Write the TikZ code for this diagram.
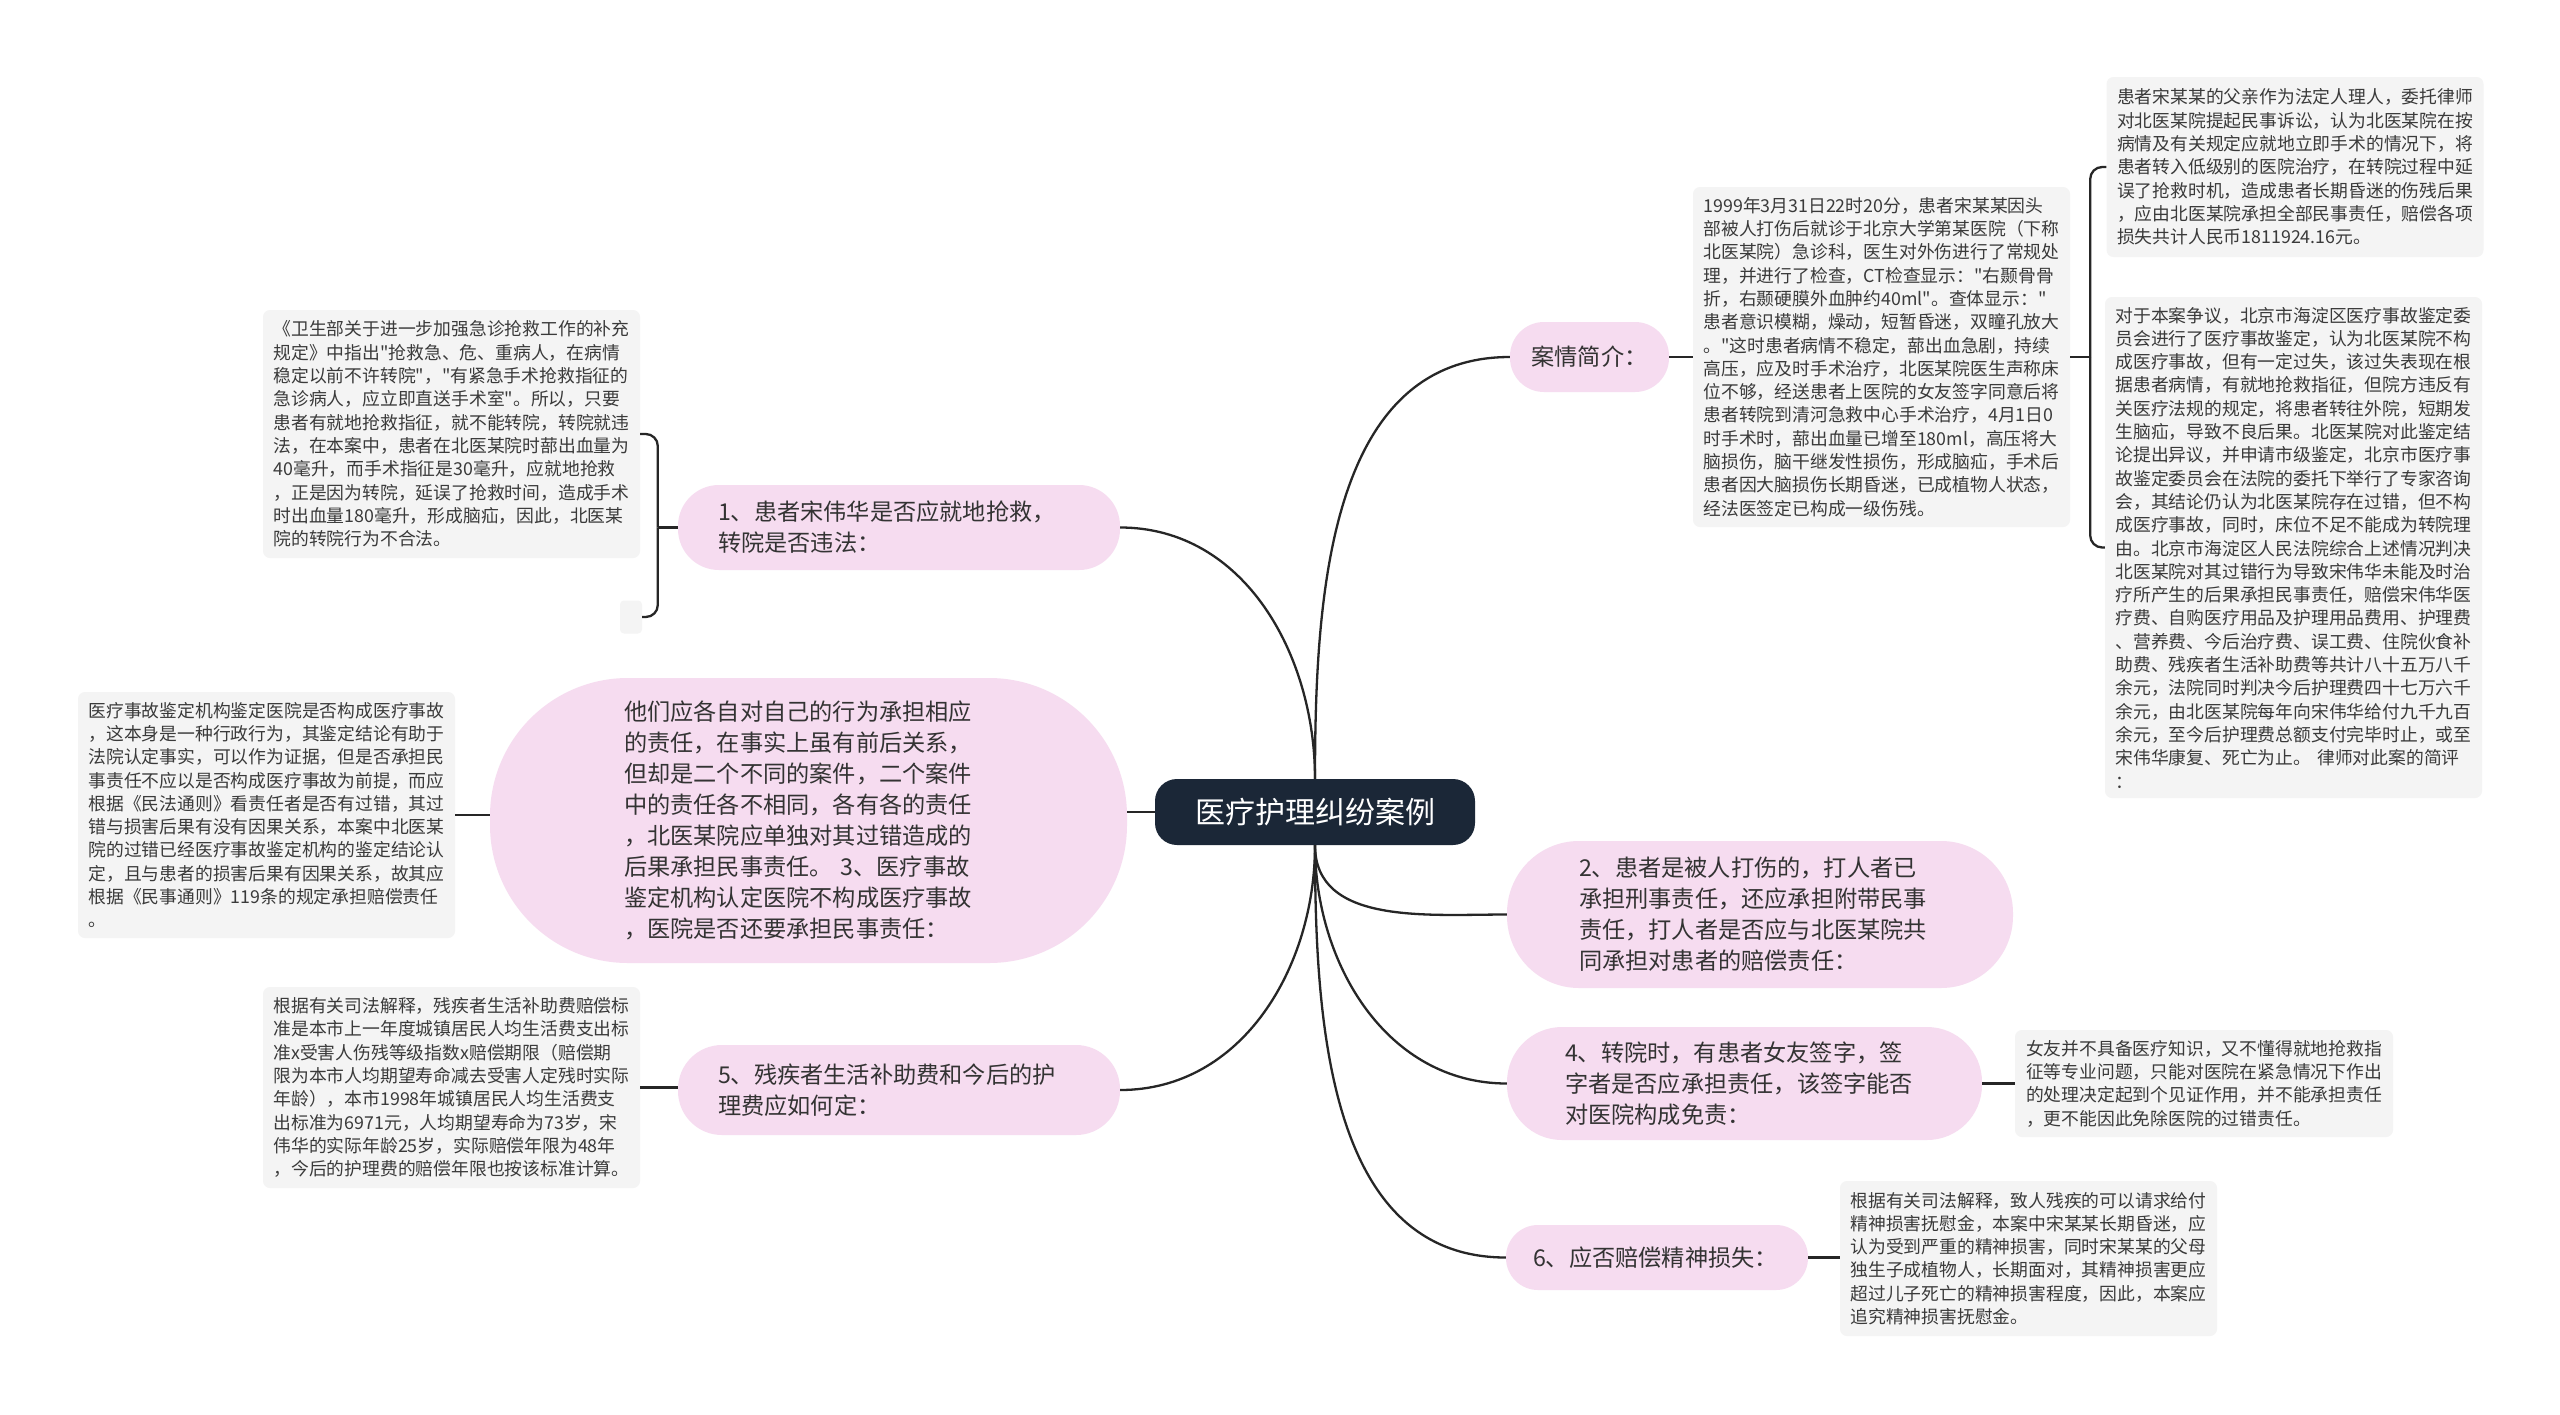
\documentclass[tikz,border=0pt]{standalone}
\usepackage{fontspec}
\setmainfont{Noto Sans CJK SC}[Ligatures=TeXOff]
\definecolor{pinkc}{HTML}{F6DCF0}
\definecolor{leafc}{HTML}{F4F4F4}
\definecolor{rootc}{HTML}{1B2737}
\definecolor{linec}{HTML}{262626}
\definecolor{brtxt}{HTML}{333333}
\definecolor{leaftxt}{HTML}{3A3A3A}
\begin{document}
\begin{tikzpicture}[x=1pt,y=1pt,
  conn/.style={draw=linec, line width=2.3pt},
  leaf/.style={fill=leafc, rounded corners=7pt, inner xsep=10.5pt, inner ysep=0pt,
    text width=356pt, align=left, font=\fontsize{17.8}{23.3}\selectfont, text=leaftxt},
  br/.style={fill=pinkc, inner ysep=0pt, align=left,
    font=\fontsize{23.2}{31}\selectfont, text=brtxt},
]
\useasboundingbox[fill=white] (0,0) rectangle (2560,-1414);

% root
\node[fill=rootc, rounded corners=22pt, minimum width=320pt, minimum height=66pt,
  text=white, font=\fontsize{30}{36}\selectfont] (root) at (1315,-812) {医疗护理纠纷案例};

% branches
\node[br, align=center, rounded corners=34pt, minimum width=159pt, minimum height=70pt] (intro) at (1589.5,-357) {案情简介：};
\node[br, rounded corners=41pt, text width=362pt, inner xsep=40pt, minimum height=85pt] (B1) at (899,-527.5)
  {1、患者宋伟华是否应就地抢救，\\转院是否违法：};
\node[br, rounded corners=138pt, text width=369pt, inner xsep=134pt, minimum height=285pt] (B3) at (808.5,-820.5)
  {他们应各自对自己的行为承担相应\\的责任，在事实上虽有前后关系，\\但却是二个不同的案件，二个案件\\中的责任各不相同，各有各的责任\\，北医某院应单独对其过错造成的\\后果承担民事责任。 3、医疗事故\\鉴定机构认定医院不构成医疗事故\\，医院是否还要承担民事责任：};
\node[br, rounded corners=44pt, text width=362pt, inner xsep=40pt, minimum height=90pt] (B5) at (899,-1090)
  {5、残疾者生活补助费和今后的护\\理费应如何定：};
\node[br, rounded corners=72pt, text width=362pt, inner xsep=72pt, minimum height=147pt] (B2) at (1760,-914.5)
  {2、患者是被人打伤的，打人者已\\承担刑事责任，还应承担附带民事\\责任，打人者是否应与北医某院共\\同承担对患者的赔偿责任：};
\node[br, rounded corners=55pt, text width=359pt, inner xsep=58pt, minimum height=113pt] (B4) at (1744.5,-1083.5)
  {4、转院时，有患者女友签字，签\\字者是否应承担责任，该签字能否\\对医院构成免责：};
\node[br, rounded corners=32pt, text width=248pt, inner xsep=27pt, minimum height=65pt] (B6) at (1657,-1257.5)
  {6、应否赔偿精神损失：};

% leaves
\node[leaf, minimum width=377pt, minimum height=248pt] (L1) at (451.5,-434)
  {《卫生部关于进一步加强急诊抢救工作的补充\\规定》中指出"抢救急、危、重病人，在病情\\稳定以前不许转院"，"有紧急手术抢救指征的\\急诊病人，应立即直送手术室"。所以，只要\\患者有就地抢救指征，就不能转院，转院就违\\法，在本案中，患者在北医某院时蔀出血量为\\40毫升，而手术指征是30毫升，应就地抢救\\，正是因为转院，延误了抢救时间，造成手术\\时出血量180毫升，形成脑疝，因此，北医某\\院的转院行为不合法。};
\node[fill=leafc, rounded corners=4pt, minimum width=22pt, minimum height=33pt, inner sep=0pt] (E) at (631,-617) {};
\node[leaf, minimum width=377pt, minimum height=246pt] (L3) at (266.5,-815)
  {医疗事故鉴定机构鉴定医院是否构成医疗事故\\，这本身是一种行政行为，其鉴定结论有助于\\法院认定事实，可以作为证据，但是否承担民\\事责任不应以是否构成医疗事故为前提，而应\\根据《民法通则》看责任者是否有过错，其过\\错与损害后果有没有因果关系，本案中北医某\\院的过错已经医疗事故鉴定机构的鉴定结论认\\定，且与患者的损害后果有因果关系，故其应\\根据《民事通则》119条的规定承担赔偿责任\\。};
\node[leaf, minimum width=377pt, minimum height=201pt] (L5) at (451.5,-1087.5)
  {根据有关司法解释，残疾者生活补助费赔偿标\\准是本市上一年度城镇居民人均生活费支出标\\准x受害人伤残等级指数x赔偿期限（赔偿期\\限为本市人均期望寿命减去受害人定残时实际\\年龄），本市1998年城镇居民人均生活费支\\出标准为6971元，人均期望寿命为73岁，宋\\伟华的实际年龄25岁，实际赔偿年限为48年\\，今后的护理费的赔偿年限也按该标准计算。};
\node[leaf, minimum width=377pt, minimum height=340pt] (LC) at (1881.5,-357)
  {1999年3月31日22时20分，患者宋某某因头\\部被人打伤后就诊于北京大学第某医院（下称\\北医某院）急诊科，医生对外伤进行了常规处\\理，并进行了检查，CT检查显示："右颞骨骨\\折，右颞硬膜外血肿约40ml"。查体显示："\\患者意识模糊，燥动，短暂昏迷，双瞳孔放大\\。"这时患者病情不稳定，蔀出血急剧，持续\\高压，应及时手术治疗，北医某院医生声称床\\位不够，经送患者上医院的女友签字同意后将\\患者转院到清河急救中心手术治疗，4月1日0\\时手术时，蔀出血量已增至180ml，高压将大\\脑损伤，脑干继发性损伤，形成脑疝，手术后\\患者因大脑损伤长期昏迷，已成植物人状态，\\经法医签定已构成一级伤残。};
\node[leaf, minimum width=377pt, minimum height=180pt] (LT1) at (2295,-167)
  {患者宋某某的父亲作为法定人理人，委托律师\\对北医某院提起民事诉讼，认为北医某院在按\\病情及有关规定应就地立即手术的情况下，将\\患者转入低级别的医院治疗，在转院过程中延\\误了抢救时机，造成患者长期昏迷的伤残后果\\，应由北医某院承担全部民事责任，赔偿各项\\损失共计人民币1811924.16元。};
\node[leaf, minimum width=377pt, minimum height=501pt] (LT2) at (2293.5,-547.5)
  {对于本案争议，北京市海淀区医疗事故鉴定委\\员会进行了医疗事故鉴定，认为北医某院不构\\成医疗事故，但有一定过失，该过失表现在根\\据患者病情，有就地抢救指征，但院方违反有\\关医疗法规的规定，将患者转往外院，短期发\\生脑疝，导致不良后果。北医某院对此鉴定结\\论提出异议，并申请市级鉴定，北京市医疗事\\故鉴定委员会在法院的委托下举行了专家咨询\\会，其结论仍认为北医某院存在过错，但不构\\成医疗事故，同时，床位不足不能成为转院理\\由。北京市海淀区人民法院综合上述情况判决\\北医某院对其过错行为导致宋伟华未能及时治\\疗所产生的后果承担民事责任，赔偿宋伟华医\\疗费、自购医疗用品及护理用品费用、护理费\\、营养费、今后治疗费、误工费、住院伙食补\\助费、残疾者生活补助费等共计八十五万八千\\余元，法院同时判决今后护理费四十七万六千\\余元，由北医某院每年向宋伟华给付九千九百\\余元，至今后护理费总额支付完毕时止，或至\\宋伟华康复、死亡为止。 律师对此案的简评\\：};
\node[leaf, minimum width=378pt, minimum height=107pt] (L4) at (2204,-1083.5)
  {女友并不具备医疗知识，又不懂得就地抢救指\\征等专业问题，只能对医院在紧急情况下作出\\的处理决定起到个见证作用，并不能承担责任\\，更不能因此免除医院的过错责任。};
\node[leaf, minimum width=377pt, minimum height=155pt] (L6) at (2028.5,-1258.5)
  {根据有关司法解释，致人残疾的可以请求给付\\精神损害抚慰金，本案中宋某某长期昏迷，应\\认为受到严重的精神损害，同时宋某某的父母\\独生子成植物人，长期面对，其精神损害更应\\超过儿子死亡的精神损害程度，因此，本案应\\追究精神损害抚慰金。};

% connectors from root
\draw[conn] (root.north) to[out=90,in=180] (intro.west);
\draw[conn] (root.north) to[out=90,in=0] (B1.east);
\draw[conn] (root.west) -- (root.west -| B3.east);
\draw[conn] (root.south) to[out=-90,in=180] (B2.west);
\draw[conn] (root.south) to[out=-90,in=180] (B4.west);
\draw[conn] (root.south) to[out=-90,in=180] (B6.west);
\draw[conn] (root.south) to[out=-90,in=0] (B5.east);

% connectors to leaves
\draw[conn] (intro.east) -- (intro.east -| LC.west);
\path (LC.east) ++(20,0) coordinate (jc);
\draw[conn] (LC.east) -- (jc);
\draw[conn, rounded corners=12pt] (jc) |- (LT1.west);
\draw[conn, rounded corners=12pt] (jc) |- (LT2.west);
\path (B1.west) ++(-20,0) coordinate (j1);
\draw[conn] (B1.west) -- (j1);
\draw[conn, rounded corners=12pt] (j1) |- (L1.east);
\draw[conn, rounded corners=12pt] (j1) |- (E.east);
\draw[conn] (L3.east) -- (L3.east -| B3.west);
\draw[conn] (L5.east) -- (L5.east -| B5.west);
\draw[conn] (B4.east) -- (B4.east -| L4.west);
\draw[conn] (B6.east) -- (B6.east -| L6.west);
\end{tikzpicture}
\end{document}
